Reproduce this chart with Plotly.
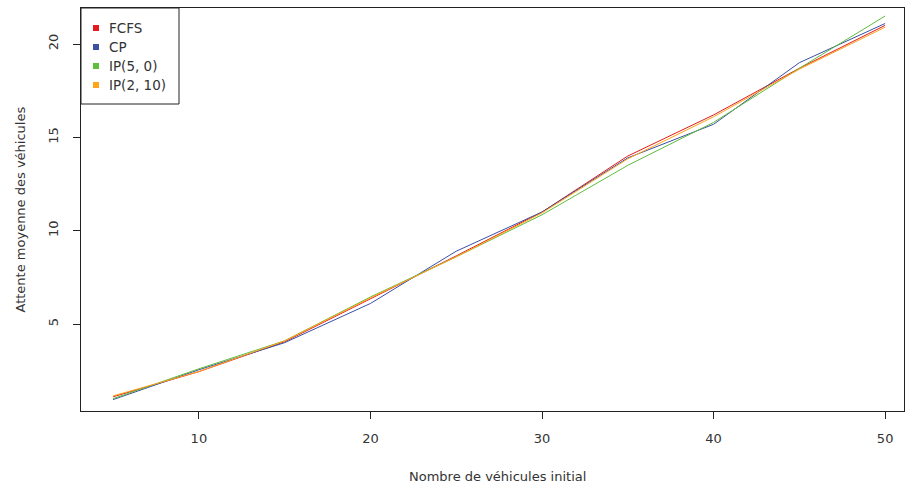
import plotly.graph_objects as go

x_vals = [5, 10, 15, 20, 25, 30, 35, 40, 45, 50]
fcfs = [1.1, 2.45, 4.05, 6.35, 8.65, 11.0, 14.0, 16.2, 18.7, 21.0]
cp = [0.95, 2.55, 4.0, 6.1, 8.9, 11.0, 13.9, 15.7, 19.0, 21.1]
ip50 = [1.0, 2.6, 4.1, 6.45, 8.6, 10.85, 13.5, 15.8, 18.7, 21.5]
ip210 = [1.15, 2.45, 4.1, 6.4, 8.6, 10.95, 13.85, 16.1, 18.65, 20.9]

names = ["FCFS", "CP", "IP(5, 0)", "IP(2, 10)"]
colors = ["#E41A1C", "#3A50A2", "#5FBE3C", "#FFA31A"]
series = [fcfs, cp, ip50, ip210]

x_ticks = [10, 20, 30, 40, 50]
y_ticks = [5, 10, 15, 20]

W, H = 906, 486
L, R, T, B = 81, 904, 8, 411
pw, ph = R - L, B - T

fig = go.Figure()
for n, c, s in zip(names, colors, series):
    fig.add_trace(go.Scatter(x=x_vals, y=s, mode="lines", name=n,
                             line=dict(color=c, width=1), showlegend=False))

font = "DejaVu Sans, Arial, sans-serif"
tcol = "#333333"

def px_x(p):
    return (p - L) / pw

def px_y(p):
    return (B - p) / ph

shapes = [dict(type="rect", xref="paper", yref="paper",
               x0=0, x1=px_x(179), y0=px_y(104), y1=1,
               line=dict(color="#222222", width=1), fillcolor="white", layer="above")]
annotations = []
rows = [28, 47, 66, 85]
for n, c, yy in zip(names, colors, rows):
    shapes.append(dict(type="rect", xref="paper", yref="paper",
                       x0=px_x(93), x1=px_x(99), y0=px_y(yy + 3), y1=px_y(yy - 3),
                       line=dict(width=0), fillcolor=c, layer="above"))
    annotations.append(dict(x=px_x(107), y=px_y(yy), xref="paper", yref="paper",
                            text=n, showarrow=False, xanchor="left", yanchor="middle",
                            font=dict(family=font, size=13.5, color=tcol)))

annotations.append(dict(x=px_x(498), y=px_y(476), xref="paper", yref="paper",
                        text="Nombre de véhicules initial", showarrow=False,
                        xanchor="center", yanchor="middle",
                        font=dict(family=font, size=13, color=tcol)))
annotations.append(dict(x=px_x(20), y=0.5, xref="paper", yref="paper",
                        text="Attente moyenne des véhicules", showarrow=False,
                        textangle=-90, xanchor="center", yanchor="middle",
                        font=dict(family=font, size=13, color=tcol)))

fig.update_layout(
    width=W, height=H,
    margin=dict(l=L, r=W - R, t=T, b=H - B),
    plot_bgcolor="white", paper_bgcolor="white",
    font=dict(family=font, size=13, color=tcol),
    shapes=shapes, annotations=annotations,
    xaxis=dict(range=[3.13, 51.1], tickvals=x_ticks, ticks="outside", ticklen=7,
               tickcolor="#222222", showline=True, linecolor="#222222", mirror=True,
               showgrid=False, zeroline=False, ticklabelstandoff=8),
    yaxis=dict(range=[0.34, 21.93], tickvals=y_ticks, ticks="outside", ticklen=7,
               tickcolor="#222222", showline=True, linecolor="#222222", mirror=True,
               showgrid=False, zeroline=False, tickangle=-90, ticklabelstandoff=10),
)

fig.write_html("out.html", config={"displayModeBar": False},
               post_script="document.body.style.margin='0';document.body.style.overflow='hidden';")
